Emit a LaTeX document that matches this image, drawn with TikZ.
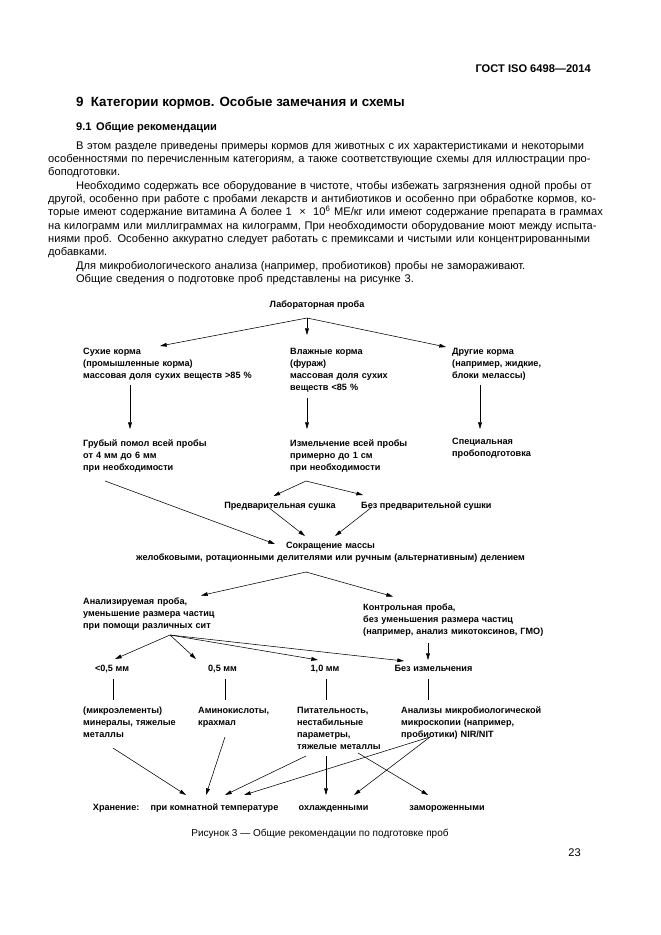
\documentclass[tikz,border=0pt]{standalone}
\usepackage{fontspec}
\setmainfont{Liberation Sans}
\usetikzlibrary{arrows.meta}

\newcommand{\fullline}[1]{\makebox[\linewidth][s]{#1}}
\newcommand{\indline}[1]{\hspace*{25pt}\makebox[\dimexpr\linewidth-25pt\relax][s]{#1}}

\begin{document}
\begin{tikzpicture}[x=0.9pt,y=-0.9pt,
  txt/.style={font=\fontsize{8.2}{11}\selectfont\bfseries,inner sep=0pt,text width=200pt,align=left,anchor=base west},
  lbl/.style={font=\fontsize{8.2}{11}\selectfont\bfseries,inner sep=0pt,anchor=base},
  arr/.style={line width=0.5pt,-{Triangle[length=6pt,width=3.4pt]}},
  ln/.style={line width=0.5pt}]

\useasboundingbox (0,0) rectangle (661,935);

\node[anchor=base east,inner sep=0pt,font=\fontsize{10}{12}\selectfont\bfseries] (gost) at (591,72) {ГОСТ ISO 6498—2014};
\node[anchor=base west,inner sep=0pt,font=\fontsize{12}{14}\selectfont\bfseries] (sec) at (76,106) {9\hspace{6.5pt}Категории кормов. Особые замечания и схемы};
\node[anchor=base west,inner sep=0pt,font=\fontsize{10}{12}\selectfont\bfseries] (subsec) at (76,130.5) {9.1\hspace{4pt}Общие рекомендации};

\node[anchor=base west,inner sep=0pt,text width=489pt,align=left,font=\fontsize{10}{12}\selectfont] (body) at (48,149.2) {%
\indline{В этом разделе приведены примеры кормов для животных с их характеристиками и некоторыми}\\
\fullline{особенностями по перечисленным категориям, а также соответствующие схемы для иллюстрации про-}\\
боподготовки.\\
\indline{Необходимо содержать все оборудование в чистоте, чтобы избежать загрязнения одной пробы от}\\
\fullline{другой, особенно при работе с пробами лекарств и антибиотиков и особенно при обработке кормов, ко-}\\
\fullline{торые имеют содержание витамина А более 1 \ × \ 10\textsuperscript{6} МЕ/кг или имеют содержание препарата в граммах}\\
\fullline{на килограмм или миллиграммах на килограмм, При необходимости оборудование моют между испыта-}\\
\fullline{ниями проб. Особенно аккуратно следует работать с премиксами и чистыми или концентрированными}\\
добавками.\\
\hspace*{25pt}Для микробиологического анализа (например, пробиотиков) пробы не замораживают.\\
\hspace*{25pt}Общие сведения о подготовке проб представлены на рисунке 3.};

\node[lbl] (lab) at (317,307) {Лабораторная проба};

\node[txt] (dry) at (83,354) {Сухие корма\\(промышленные корма)\\массовая доля сухих веществ >85 \%};
\node[txt] (wet) at (290,354) {Влажные корма\\(фураж)\\массовая доля сухих\\веществ <85 \%};
\node[txt] (other) at (452,354) {Другие корма\\(например, жидкие,\\блоки мелассы)};

\node[txt] (coarse) at (83,446) {Грубый помол всей пробы\\от 4 мм до 6 мм\\при необходимости};
\node[txt] (grind) at (290,446) {Измельчение всей пробы\\примерно до 1 см\\при необходимости};
\node[txt] (special) at (452,444.5) {Специальная\\пробоподготовка};

\node[lbl] (predry) at (280,508) {Предварительная сушка};
\node[lbl,anchor=base west] (nodry) at (361,508) {Без предварительной сушки};

\node[txt,text width=400pt,align=center,anchor=base] (reduce) at (330.5,548.5) {Сокращение массы\\желобковыми, ротационными делителями или ручным (альтернативным) делением};

\node[txt] (anal) at (83,604) {Анализируемая проба,\\уменьшение размера частиц\\при помощи различных сит};
\node[txt] (ctrl) at (363,610) {Контрольная проба,\\без уменьшения размера частиц\\(например, анализ микотоксинов, ГМО)};

\node[lbl] (fine) at (112,671) {<0,5 мм};
\node[lbl] (half) at (222.5,671) {0,5 мм};
\node[lbl] (one) at (325,671) {1,0 мм};
\node[lbl] (whole) at (433.5,671) {Без измельчения};

\node[txt] (mineral) at (83,713) {(микроэлементы)\\минералы, тяжелые\\металлы};
\node[txt] (amino) at (198,713) {Аминокислоты,\\крахмал};
\node[txt] (nutri) at (297,713) {Питательность,\\нестабильные\\параметры,\\тяжелые металлы};
\node[txt] (micro) at (401,713) {Анализы микробиологической\\микроскопии (например,\\пробиотики) NIR/NIT};

\node[lbl,anchor=base west] (store) at (92.7,810) {Хранение:};
\node[lbl] (room) at (214.5,810) {при комнатной температуре};
\node[lbl] (cool) at (333.5,810) {охлажденными};
\node[lbl] (frozen) at (447,810) {замороженными};

\node[anchor=base,inner sep=0pt,font=\fontsize{9}{11}\selectfont] (caption) at (320,836) {Рисунок 3 — Общие рекомендации по подготовке проб};
\node[anchor=base east,inner sep=0pt,font=\fontsize{10}{12}\selectfont] (page) at (581,856) {23};


\coordinate (lab-o) at (307,318);
\coordinate (dry-i) at (160,346);
\coordinate (wet-i) at (307,335);
\coordinate (other-i) at (446,347);

\coordinate (dry-o) at (130,385);
\coordinate (coarse-i) at (130,429);
\coordinate (wet-o) at (307,398);
\coordinate (grind-i) at (307,429);
\coordinate (other-o) at (480,385);
\coordinate (special-i) at (480,429);

\coordinate (grind-o) at (306,481);
\coordinate (predry-i) at (273.5,496);
\coordinate (nodry-i) at (363,495);
\coordinate (coarse-o) at (105,481);
\coordinate (reduce-l) at (275,544);
\coordinate (predry-o) at (268,507);
\coordinate (reduce-a) at (305,536);
\coordinate (nodry-o) at (372,507);
\coordinate (reduce-b) at (335,536);

\coordinate (reduce-o) at (306,572);
\coordinate (anal-i) at (201,595.5);
\coordinate (ctrl-i) at (393,596.5);

\coordinate (anal-o) at (170,635);
\coordinate (fine-i) at (115,659);
\coordinate (half-i) at (196,659);
\coordinate (one-i) at (318,660);
\coordinate (whole-i) at (404,661);
\coordinate (ctrl-o) at (428,643);
\coordinate (whole-u) at (428,660);

\coordinate (fine-o) at (113,679);
\coordinate (mineral-i) at (113,700);
\coordinate (half-o) at (225,679);
\coordinate (amino-i) at (225,700);
\coordinate (one-o) at (326,679);
\coordinate (nutri-i) at (326,700);
\coordinate (whole-o) at (428,679);
\coordinate (micro-i) at (428,700);

\coordinate (mineral-o) at (113,748);
\coordinate (amino-o) at (225,737);
\coordinate (nutri-o) at (306,756);
\coordinate (nutri-p) at (326,756);
\coordinate (nutri-q) at (358,753);
\coordinate (micro-o) at (430,737);
\coordinate (room-a) at (186,795);
\coordinate (room-b) at (206,795);
\coordinate (room-c) at (225,795);
\coordinate (room-d) at (244,795);
\coordinate (cool-a) at (326,795);
\coordinate (cool-b) at (354,795);
\coordinate (frozen-a) at (428,795);


\draw[arr] (lab-o) -- (dry-i);
\draw[arr] (lab-o) -- (wet-i);
\draw[arr] (lab-o) -- (other-i);

\draw[arr] (dry-o) -- (coarse-i);
\draw[arr] (wet-o) -- (grind-i);
\draw[arr] (other-o) -- (special-i);

\draw[arr] (grind-o) -- (predry-i);
\draw[arr] (grind-o) -- (nodry-i);
\draw[arr] (coarse-o) -- (reduce-l);
\draw[arr] (predry-o) -- (reduce-a);
\draw[arr] (nodry-o) -- (reduce-b);

\draw[arr] (reduce-o) -- (anal-i);
\draw[arr] (reduce-o) -- (ctrl-i);

\draw[arr] (anal-o) -- (fine-i);
\draw[arr] (anal-o) -- (half-i);
\draw[arr] (anal-o) -- (one-i);
\draw[arr] (anal-o) -- (whole-i);
\draw[arr] (ctrl-o) -- (whole-u);

\draw[ln] (fine-o) -- (mineral-i);
\draw[ln] (half-o) -- (amino-i);
\draw[ln] (one-o) -- (nutri-i);
\draw[ln] (whole-o) -- (micro-i);

\draw[arr] (mineral-o) -- (room-a);
\draw[arr] (amino-o) -- (room-b);
\draw[arr] (nutri-o) -- (room-c);
\draw[arr] (micro-o) -- (room-d);
\draw[arr] (nutri-p) -- (cool-a);
\draw[arr] (nutri-q) -- (frozen-a);
\draw[arr] (micro-o) -- (cool-b);

\end{tikzpicture}
\end{document}
